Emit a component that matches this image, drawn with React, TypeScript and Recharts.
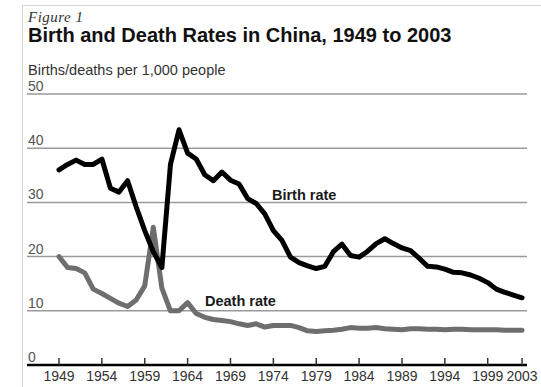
import React from 'react';
import { LineChart, Line, XAxis, YAxis, ReferenceLine, ReferenceDot } from 'recharts';

const years = [
  1949, 1950, 1951, 1952, 1953, 1954, 1955, 1956, 1957, 1958, 1959, 1960, 1961, 1962, 1963, 1964,
  1965, 1966, 1967, 1968, 1969, 1970, 1971, 1972, 1973, 1974, 1975, 1976, 1977, 1978, 1979, 1980,
  1981, 1982, 1983, 1984, 1985, 1986, 1987, 1988, 1989, 1990, 1991, 1992, 1993, 1994, 1995, 1996,
  1997, 1998, 1999, 2000, 2001, 2002, 2003,
];

const birthRate = [
  36.0, 37.0, 37.8, 37.0, 37.0, 38.0, 32.6, 31.9, 34.0, 29.2, 24.8, 20.9, 18.0, 37.0, 43.4, 39.1,
  38.0, 35.1, 34.0, 35.6, 34.1, 33.4, 30.7, 29.8, 27.9, 24.8, 23.0, 19.9, 18.9, 18.3, 17.8, 18.2,
  20.9, 22.3, 20.2, 19.9, 21.0, 22.4, 23.3, 22.4, 21.6, 21.1, 19.7, 18.2, 18.1, 17.7, 17.1, 17.0,
  16.6, 16.0, 15.2, 14.0, 13.4, 12.9, 12.4,
];

const deathRate = [
  20.0, 18.0, 17.8, 17.0, 14.0, 13.2, 12.3, 11.4, 10.8, 12.0, 14.6, 25.4, 14.2, 10.0, 10.0, 11.5,
  9.5, 8.8, 8.4, 8.2, 8.0, 7.6, 7.3, 7.6, 7.0, 7.3, 7.3, 7.3, 6.9, 6.3, 6.2, 6.3,
  6.4, 6.6, 6.9, 6.8, 6.8, 6.9, 6.7, 6.6, 6.5, 6.7, 6.7, 6.6, 6.6, 6.5, 6.6, 6.6,
  6.5, 6.5, 6.5, 6.5, 6.4, 6.4, 6.4,
];

const xTicks = [1949, 1954, 1959, 1964, 1969, 1974, 1979, 1984, 1989, 1994, 1999, 2003];
const yTicks = [0, 10, 20, 30, 40, 50];

const data = years.map((y, i) => ({ year: y, birth: birthRate[i], death: deathRate[i] }));

const FONT = '"Liberation Sans", Arial, Helvetica, sans-serif';

const XTick = (props: any) => {
  const { x, y, payload } = props;
  return (
    <g>
      <line x1={x} x2={x} y1={y - 7} y2={y} stroke="#333" strokeWidth={1.5} />
      <text x={x} y={y + 16} textAnchor="middle" fontSize={14} fontFamily={FONT} fill="#333">
        {payload.value}
      </text>
    </g>
  );
};

const makeYLabel = (value: number) => (props: any) => {
  const vb = props.viewBox || {};
  return (
    <text x={(vb.x ?? 0) + 1} y={(vb.y ?? 0) - 3} textAnchor="start" fontSize={14} fontFamily={FONT} fill="#555">
      {value}
    </text>
  );
};

const makeLabel = (text: string) => (props: any) => {
  const { cx, cy } = props;
  return (
    <text x={cx} y={cy} textAnchor="start" fontSize={14.5} fontWeight="bold" fontFamily={FONT} fill="#1a1a1a">
      {text}
    </text>
  );
};

export default function App() {
  return (
    <div style={{ position: 'absolute', left: 0, top: 0, width: 541, height: 387, background: '#fff', overflow: 'hidden' }}>
      <div
        style={{
          position: 'absolute',
          left: 22,
          top: 5,
          width: 541 - 22,
          height: 387 - 5,
          borderTop: '1px solid #d4d4d4',
          borderLeft: '1px solid #d4d4d4',
          boxSizing: 'border-box',
        }}
      />
      <div
        style={{
          position: 'absolute',
          left: 28,
          top: 8,
          fontFamily: '"Liberation Serif", "Times New Roman", serif',
          fontStyle: 'italic',
          fontSize: 15,
          color: '#333',
          letterSpacing: 0.5,
          lineHeight: '18px',
        }}
      >
        Figure 1
      </div>
      <div
        style={{
          position: 'absolute',
          left: 28,
          top: 24,
          fontFamily: FONT,
          fontWeight: 'bold',
          fontSize: 20,
          color: '#111',
          lineHeight: '23px',
          whiteSpace: 'nowrap',
        }}
      >
        Birth and Death Rates in China, 1949 to 2003
      </div>
      <div
        style={{
          position: 'absolute',
          left: 28,
          top: 62,
          fontFamily: FONT,
          fontSize: 14.5,
          color: '#333',
          lineHeight: '17px',
          whiteSpace: 'nowrap',
        }}
      >
        Births/deaths per 1,000 people
      </div>
      <div style={{ position: 'absolute', left: 0, top: 0 }}>
        <LineChart width={541} height={387} data={data} margin={{ top: 94, right: 14, bottom: 0, left: 27 }}>
          {yTicks.map((v) => (
            <ReferenceLine
              key={v}
              y={v}
              stroke={v === 0 ? 'none' : '#9a9a9a'}
              strokeWidth={1.5}
              label={makeYLabel(v)}
            />
          ))}
          <XAxis
            dataKey="year"
            type="number"
            domain={[1945.27, 2003.58]}
            allowDataOverflow
            ticks={xTicks}
            interval={0}
            height={22}
            tickSize={0}
            tickMargin={0}
            tick={<XTick />}
            axisLine={{ stroke: '#000', strokeWidth: 2.5 }}
            tickLine={false}
          />
          <YAxis type="number" domain={[0, 50]} ticks={yTicks} hide />
          <Line
            type="linear"
            dataKey="death"
            stroke="#6e6e6e"
            strokeWidth={5}
            dot={false}
            isAnimationActive={false}
            strokeLinejoin="round"
            strokeLinecap="round"
          />
          <Line
            type="linear"
            dataKey="birth"
            stroke="#000"
            strokeWidth={5}
            dot={false}
            isAnimationActive={false}
            strokeLinejoin="round"
            strokeLinecap="round"
          />
          <ReferenceDot x={1973.84} y={30.4} r={0} shape={makeLabel('Birth rate')} />
          <ReferenceDot x={1966.03} y={10.9} r={0} shape={makeLabel('Death rate')} />
        </LineChart>
      </div>
    </div>
  );
}
